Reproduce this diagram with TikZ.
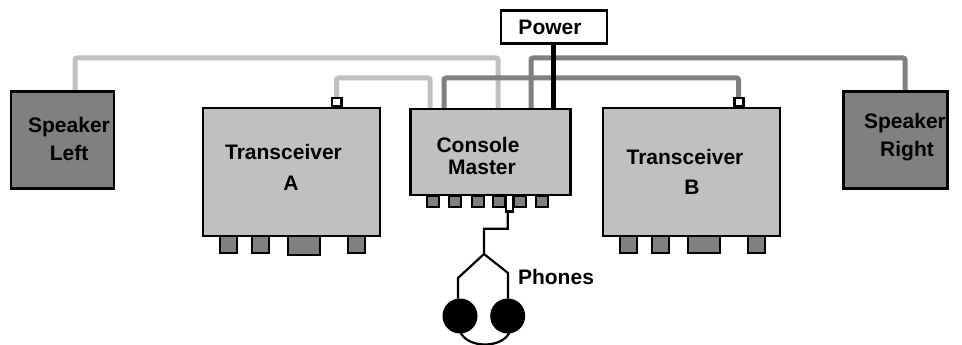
\documentclass[tikz,border=0pt]{standalone}
\usepackage{fontspec}
\setmainfont{Liberation Sans}
\tikzset{
  x=1pt,y=-1pt,
  boxbase/.style={draw=black,line width=2.4pt,inner sep=0pt,outer sep=0pt,anchor=north west},
  gbox/.style={boxbase,fill=gLight},
  sbox/.style={boxbase,fill=gDark},
  pbox/.style={boxbase,fill=white},
  portbox/.style={draw=black,line width=2pt,fill=gDark,inner sep=0pt,outer sep=0pt,anchor=north west},
  jackbox/.style={draw=black,line width=2.2pt,fill=white,inner sep=0pt,outer sep=0pt,anchor=north west},
  lbl/.style={font=\fontsize{21}{21}\selectfont\bfseries,inner sep=0pt,text=black},
  wl/.style={draw=gLight,line width=5pt,rounded corners=2pt},
  wd/.style={draw=gDark,line width=5pt,rounded corners=2pt},
  wk/.style={draw=black,line width=5pt},
  wp/.style={draw=black,line width=2.2pt},
  ear/.style={circle,fill=black,minimum size=35pt,inner sep=0pt,outer sep=0pt}
}
\definecolor{gLight}{HTML}{C0C0C0}
\definecolor{gDark}{HTML}{808080}
\begin{document}
\begin{tikzpicture}
\useasboundingbox (0,0) rectangle (962,345);
% attachment points
\coordinate (aSL) at (75,92);
\coordinate (aSR) at (905,92);
\coordinate (aC1) at (430,109);
\coordinate (aC2) at (444,109);
\coordinate (aC3) at (498,109);
\coordinate (aC4) at (531,109);
\coordinate (aC5) at (553.7,109);
\coordinate (aP)  at (553.7,43);
\coordinate (aTA) at (336.5,100);
\coordinate (aTB) at (738.5,100);
\coordinate (cTop1) at (498,58);
\coordinate (cTop2) at (905,58);
\coordinate (cMid1) at (430,78);
\coordinate (cMid2) at (738.5,78);
% wires
\draw[wl] (aSL) |- (cTop1) -- (aC3);
\draw[wl] (aTA) |- (cMid1) -- (aC1);
\draw[wd] (aC2) |- (cMid2) -- (aTB);
\draw[wd] (aC4) |- (cTop2) -- (aSR);
\draw[wk] (aP) -- (aC5);
% main boxes
\node[pbox,minimum width=106pt,minimum height=33pt] (power) at (501,10.5) {};
\node[sbox,minimum width=103pt,minimum height=97pt] (spkL) at (11,91.5) {};
\node[sbox,minimum width=104pt,minimum height=97pt] (spkR) at (843.5,91.5) {};
\node[gbox,minimum width=177pt,minimum height=128pt] (tA) at (203,108) {};
\node[gbox,minimum width=177pt,minimum height=128pt] (tB) at (603,108) {};
\node[gbox,minimum width=160pt,minimum height=86pt] (con) at (410.5,109) {};
% small jacks on the transceivers
\node[jackbox,minimum width=9.5pt,minimum height=8.5pt] (jA) at (332,98) {};
\node[jackbox,minimum width=9pt,minimum height=8.5pt] (jB) at (734.5,98) {};
% transceiver A ports
\node[portbox,minimum width=17pt,minimum height=17pt] (a1) at (219.5,236) {};
\node[portbox,minimum width=17pt,minimum height=17pt] (a2) at (251.5,236) {};
\node[portbox,minimum width=32pt,minimum height=18.5pt] (a3) at (288,236) {};
\node[portbox,minimum width=17pt,minimum height=17pt] (a4) at (347.5,236) {};
% transceiver B ports
\node[portbox,minimum width=17pt,minimum height=17pt] (b1) at (619.5,236) {};
\node[portbox,minimum width=17pt,minimum height=17pt] (b2) at (651.5,236) {};
\node[portbox,minimum width=32pt,minimum height=17pt] (b3) at (688,236) {};
\node[portbox,minimum width=17pt,minimum height=17pt] (b4) at (747.5,236) {};
% console ports
\foreach \n/\px in {c1/426.5,c2/448.5,c3/471.5,c4/492.5,c5/513.5,c6/535.5}
  \node[portbox,minimum width=12pt,minimum height=11pt] (\n) at (\px,195.5) {};
% phones
\node[ear] (earL) at (460,316) {};
\node[ear] (earR) at (507.7,316) {};
\coordinate (fork) at (484,254);
\coordinate (splL) at (458,278);
\coordinate (splR) at (508,273);
\coordinate (bend) at (484,228.7);
\draw[wp] (507.7,211) |- (bend) -- (fork) -- (splL) -- (splL |- earL.north);
\draw[wp] (fork) -- (splR) -- (splR |- earR.north);
\draw[wp] (460,331) .. controls (466,349) and (504,349) .. (510,331);
\node[jackbox,minimum width=7pt,minimum height=16.5pt] (plug) at (506,195) {};
% labels
\node[lbl] (tPower) at (550,27) {Power};
\node[lbl] (tSL1) at (69,127) {Speaker};
\node[lbl] (tSL2) at (69,153) {Left};
\node[lbl] (tSR1) at (905,123) {Speaker};
\node[lbl] (tSR2) at (907,151) {Right};
\node[lbl] (tA1) at (283.5,152) {Transceiver};
\node[lbl] (tA2) at (291,183) {A};
\node[lbl] (tB1) at (685,157) {Transceiver};
\node[lbl] (tB2) at (692,187) {B};
\node[lbl] (tC1) at (478,145) {Console};
\node[lbl] (tC2) at (482,167) {Master};
\node[lbl] (tPh) at (556,277) {Phones};
\end{tikzpicture}
\end{document}
